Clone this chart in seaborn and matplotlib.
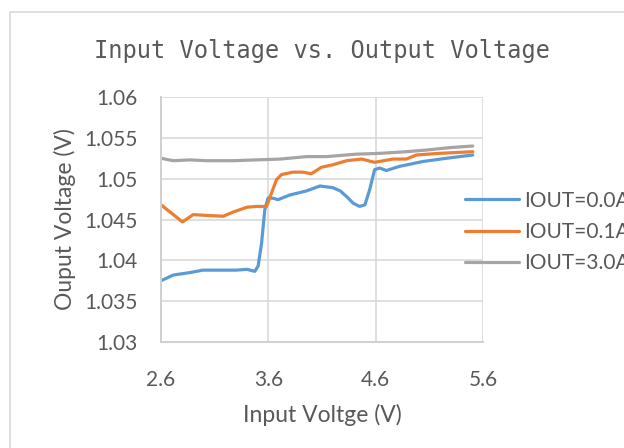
import matplotlib
matplotlib.use("Agg")
import matplotlib.pyplot as plt
import matplotlib.patches as mpatches
import seaborn as sns
import pandas as pd

# ---- data ----
vin_00 = [2.60, 2.715, 2.87, 2.99, 3.18, 3.30, 3.40, 3.474, 3.505, 3.537, 3.567, 3.598, 3.645, 3.69,
          3.80, 3.955, 4.08, 4.20, 4.27, 4.33, 4.39, 4.45, 4.50, 4.545, 4.59, 4.637, 4.70,
          4.82, 5.04, 5.26, 5.505]
vout_00 = [1.0375, 1.0382, 1.0385, 1.0388, 1.0388, 1.0388, 1.0389, 1.03865, 1.0393, 1.0421, 1.0462,
           1.04764, 1.0476, 1.04743, 1.0480, 1.0485, 1.0491, 1.0489, 1.0485, 1.0478, 1.0470, 1.0466,
           1.0468, 1.0487, 1.0511, 1.0513, 1.0510, 1.0515, 1.0521, 1.0525, 1.0529]

vin_01 = [2.60, 2.715, 2.80, 2.90, 3.025, 3.18, 3.27, 3.40, 3.49, 3.583, 3.63, 3.676, 3.723, 3.83,
          3.92, 4.00, 4.095, 4.20, 4.33, 4.47, 4.59, 4.76, 4.885, 4.98, 5.195, 5.505]
vout_01 = [1.0468, 1.0456, 1.0447, 1.0456, 1.0455, 1.0454, 1.0459, 1.0465, 1.0466, 1.0466, 1.04825,
           1.04988, 1.0505, 1.0508, 1.0508, 1.0506, 1.0514, 1.0517, 1.0522, 1.0524, 1.0520, 1.0524,
           1.0524, 1.0529, 1.0531, 1.0533]

vin_30 = [2.60, 2.715, 2.87, 3.025, 3.27, 3.49, 3.71, 3.955, 4.14, 4.42, 4.64, 4.885, 5.07, 5.29, 5.505]
vout_30 = [1.0525, 1.0522, 1.0523, 1.0522, 1.0522, 1.0523, 1.0524, 1.0527, 1.0527, 1.0530, 1.0531,
           1.0533, 1.0535, 1.0538, 1.0540]

series_names = ["IOUT=0.0A", "IOUT=0.1A", "IOUT=3.0A"]
series_colors = ["#5B9BD5", "#ED7D31", "#A5A5A5"]

x_ticks = [2.6, 3.6, 4.6, 5.6]
y_ticks = [1.03, 1.035, 1.04, 1.045, 1.05, 1.055, 1.06]
y_tick_labels = ["1.03", "1.035", "1.04", "1.045", "1.05", "1.055", "1.06"]

title = "Input Voltage vs. Output Voltage"
xlabel = "Input Voltge (V)"
ylabel = "Ouput Voltage (V)"

df = pd.concat([
    pd.DataFrame({"Vin": vin_00, "Vout": vout_00, "series": series_names[0]}),
    pd.DataFrame({"Vin": vin_01, "Vout": vout_01, "series": series_names[1]}),
    pd.DataFrame({"Vin": vin_30, "Vout": vout_30, "series": series_names[2]}),
], ignore_index=True)

sns.set_style("white")
plt.rcParams["font.family"] = ["Lato", "DejaVu Sans"]

W, H = 624, 448
fig = plt.figure(figsize=(W / 100, H / 100), dpi=100)
ax = fig.add_axes([161 / W, 1 - 342 / H, (483 - 161) / W, (342 - 97) / H])

sns.lineplot(data=df, x="Vin", y="Vout", hue="series", hue_order=series_names,
             palette=series_colors, linewidth=2.3, sort=False, estimator=None,
             ax=ax, legend=True)
for line in ax.get_lines():
    line.set_solid_joinstyle("round")
    line.set_solid_capstyle("round")

ax.set_xlim(2.6, 5.6)
ax.set_ylim(1.03, 1.06)
ax.set_xticks(x_ticks)
ax.set_xticklabels([f"{v:.1f}" for v in x_ticks])
ax.set_yticks(y_ticks)
ax.set_yticklabels(y_tick_labels)
ax.grid(True, color="#D9D9D9", linewidth=1.2)
ax.set_axisbelow(True)
for s in ax.spines.values():
    s.set_visible(False)
ax.spines["left"].set_visible(True)
ax.spines["bottom"].set_visible(True)
ax.spines["left"].set_color("#D0D0D0")
ax.spines["bottom"].set_color("#D0D0D0")
ax.spines["left"].set_linewidth(1.4)
ax.spines["bottom"].set_linewidth(1.4)
ax.tick_params(axis="both", length=0, labelsize=15, colors="#595959")
ax.tick_params(axis="y", pad=17)
ax.tick_params(axis="x", pad=20)

ax.set_xlabel(xlabel, fontsize=16.5, color="#595959", labelpad=10)
ax.set_ylabel(ylabel, fontsize=16.5, color="#595959", labelpad=6)

fig.text(322 / W, 1 - 51 / H, title, ha="center", va="center",
         fontsize=17, color="#595959", family=["DejaVu Sans Mono"])

# legend
handles, labels = ax.get_legend_handles_labels()
ax.legend_.remove()
leg = fig.legend(handles, labels, loc="center left",
                 bbox_to_anchor=(465 / W, 1 - 232 / H),
                 frameon=False, fontsize=15, handlelength=2.6, handletextpad=0.25,
                 labelspacing=0.55, borderpad=0, borderaxespad=0)
for t in leg.get_texts():
    t.set_color("#595959")
for l in leg.get_lines():
    l.set_linewidth(2.3)

# chart-area border
fig.patches.append(mpatches.Rectangle((10 / W, -0.1), 1.2, 1 - 12 / H + 0.1,
                                      transform=fig.transFigure, fill=False,
                                      edgecolor="#D9D9D9", linewidth=1.2))

fig.savefig("out.png", dpi=100)
